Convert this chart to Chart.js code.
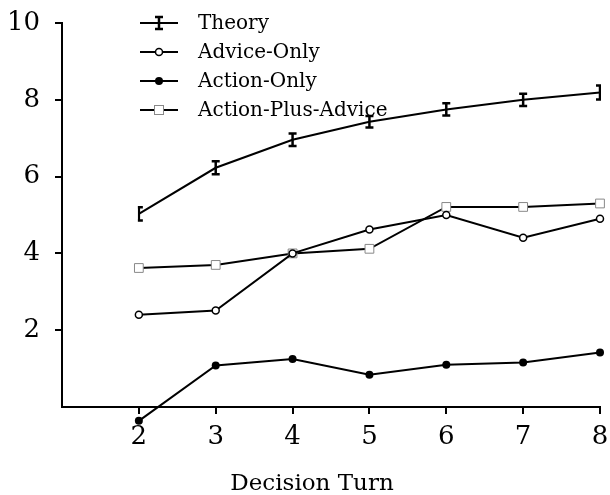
<!DOCTYPE html>
<html>
<head>
<meta charset="utf-8">
<script src="https://cdn.jsdelivr.net/npm/chart.js@4"></script>
<style>
  html, body { margin: 0; padding: 0; background: #fff; }
  #wrap { width: 610px; height: 495px; position: relative; }
</style>
</head>
<body>
<div id="wrap"><canvas id="c" width="610" height="495"></canvas></div>
<script>
const categories = [2, 3, 4, 5, 6, 7, 8];
const theory = [5.03, 6.23, 6.96, 7.43, 7.75, 8.0, 8.19];
const theoryErr = [0.17, 0.17, 0.16, 0.15, 0.16, 0.16, 0.18];
const adviceOnly = [2.4, 2.51, 4.0, 4.62, 5.0, 4.41, 4.9];
const actionOnly = [-0.36, 1.08, 1.25, 0.84, 1.1, 1.16, 1.42];
const actionPlusAdvice = [3.62, 3.7, 4.0, 4.12, 5.21, 5.21, 5.3];
const yTicks = [2, 4, 6, 8, 10];
const xTicks = [2, 3, 4, 5, 6, 7, 8];
const seriesNames = ['Theory', 'Advice-Only', 'Action-Only', 'Action-Plus-Advice'];
const xTitle = 'Decision Turn';

const pts = arr => categories.map((c, i) => ({ x: c, y: arr[i] }));
const SERIF = 'DejaVu Serif';

const errorBars = {
  id: 'errorBars',
  afterDatasetsDraw(chart) {
    const ctx = chart.ctx, xs = chart.scales.x, ys = chart.scales.y;
    chart.data.datasets.forEach((ds, di) => {
      const meta = chart.getDatasetMeta(di);
      meta.data.forEach(el => {
        const a = chart.chartArea;
        if (el.y > a.bottom || el.y < a.top) el.draw(ctx);
      });
    });
    const left = xs.getPixelForValue(categories[0]);
    const right = xs.getPixelForValue(categories[categories.length - 1]);
    ctx.save();
    ctx.beginPath();
    ctx.rect(left - 1, 0, right - left + 2, chart.height);
    ctx.clip();
    ctx.strokeStyle = '#000';
    ctx.lineWidth = 2.5;
    categories.forEach((c, i) => {
      const px = xs.getPixelForValue(c);
      const top = ys.getPixelForValue(theory[i] + theoryErr[i]);
      const bot = ys.getPixelForValue(theory[i] - theoryErr[i]);
      ctx.beginPath();
      ctx.moveTo(px, top); ctx.lineTo(px, bot);
      ctx.moveTo(px - 4, top); ctx.lineTo(px + 4, top);
      ctx.moveTo(px - 4, bot); ctx.lineTo(px + 4, bot);
      ctx.stroke();
    });
    ctx.restore();
  }
};

const customLegend = {
  id: 'customLegend',
  afterDraw(chart) {
    const ctx = chart.ctx;
    const rows = [23, 52, 81, 110];
    const x0 = 140, x1 = 178, mx = 159, tx = 198;
    ctx.save();
    ctx.font = '20px "' + SERIF + '"';
    ctx.textBaseline = 'middle';
    ctx.fillStyle = '#000';
    rows.forEach((y, i) => {
      ctx.strokeStyle = '#000';
      ctx.lineWidth = 2;
      ctx.beginPath(); ctx.moveTo(x0, y); ctx.lineTo(x1, y); ctx.stroke();
      if (i === 0) {
        ctx.lineWidth = 2.5;
        ctx.beginPath();
        ctx.moveTo(mx, y - 6); ctx.lineTo(mx, y + 6);
        ctx.moveTo(mx - 4, y - 6); ctx.lineTo(mx + 4, y - 6);
        ctx.moveTo(mx - 4, y + 6); ctx.lineTo(mx + 4, y + 6);
        ctx.stroke();
      } else if (i === 1) {
        ctx.fillStyle = '#fff'; ctx.lineWidth = 1.5;
        ctx.beginPath(); ctx.arc(mx, y, 3.5, 0, Math.PI * 2); ctx.fill(); ctx.stroke();
      } else if (i === 2) {
        ctx.fillStyle = '#000';
        ctx.beginPath(); ctx.arc(mx, y, 4, 0, Math.PI * 2); ctx.fill();
      } else {
        ctx.fillStyle = '#fff'; ctx.strokeStyle = '#888'; ctx.lineWidth = 1;
        ctx.fillRect(mx - 4.5, y - 4.5, 9, 9); ctx.strokeRect(mx - 4.5, y - 4.5, 9, 9);
      }
      ctx.fillStyle = '#000';
      ctx.fillText(seriesNames[i], tx, y + 1);
    });
    // x-axis title
    ctx.font = '23px "' + SERIF + '"';
    ctx.textAlign = 'center';
    ctx.fillText(xTitle, 312, 484);
    ctx.restore();
  }
};

new Chart(document.getElementById('c'), {
  type: 'line',
  data: {
    datasets: [
      { label: seriesNames[0], data: pts(theory), borderColor: '#000', borderWidth: 2, pointRadius: 0, clip: false },
      { label: seriesNames[1], data: pts(adviceOnly), borderColor: '#000', borderWidth: 2,
        pointStyle: 'circle', pointRadius: 3.5, pointBorderWidth: 1.5, pointBackgroundColor: '#fff', pointBorderColor: '#000', clip: false },
      { label: seriesNames[2], data: pts(actionOnly), borderColor: '#000', borderWidth: 2,
        pointStyle: 'circle', pointRadius: 4, pointBorderWidth: 0, pointBackgroundColor: '#000', pointBorderColor: '#000', clip: false },
      { label: seriesNames[3], data: pts(actionPlusAdvice), borderColor: '#000', borderWidth: 2,
        pointStyle: 'rect', pointRadius: 6.2, pointBorderWidth: 1, pointBackgroundColor: '#fff', pointBorderColor: '#888', clip: false }
    ]
  },
  options: {
    responsive: false,
    animation: false,
    layout: { padding: { top: 23, right: 10, left: 0, bottom: 0 } },
    plugins: { legend: { display: false }, tooltip: { enabled: false } },
    scales: {
      x: {
        type: 'linear', min: 1, max: 8,
        afterBuildTicks: s => { s.ticks = xTicks.map(v => ({ value: v })); },
        afterFit: s => { s.height = 88; s.paddingLeft = 0; s.paddingRight = 0; },
        grid: { display: true, drawOnChartArea: false, drawTicks: true, tickLength: 7, color: '#000', lineWidth: 2 },
        border: { display: true, color: '#000', width: 2 },
        ticks: { color: '#000', font: { family: SERIF, size: 26 }, padding: 8, maxRotation: 0 },
        title: { display: false, text: xTitle }
      },
      y: {
        min: 0, max: 10,
        afterBuildTicks: s => { s.ticks = yTicks.map(v => ({ value: v })); },
        afterFit: s => { s.width = 62; s.paddingTop = 0; s.paddingBottom = 0; },
        grid: { display: true, drawOnChartArea: false, drawTicks: true, tickLength: 7, color: '#000', lineWidth: 2 },
        border: { display: true, color: '#000', width: 2 },
        ticks: { color: '#000', font: { family: SERIF, size: 26 }, padding: 15 }
      }
    }
  },
  plugins: [errorBars, customLegend]
});
</script>
</body>
</html>
